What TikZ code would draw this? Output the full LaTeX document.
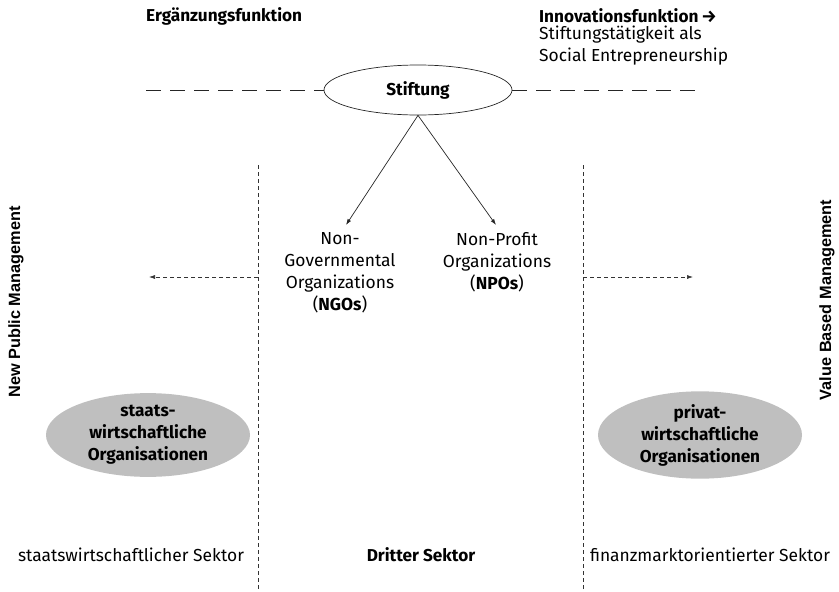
\documentclass[tikz,border=0pt]{standalone}
\usepackage{fontspec}
\setmainfont{Fira Sans}
\newfontfamily\sidefont{Liberation Sans}
\usetikzlibrary{arrows.meta,shapes.geometric}
\begin{document}
\begin{tikzpicture}[x=1pt,y=-1pt,
  txt/.style={font=\fontsize{17.4}{22}\selectfont, inner sep=0pt},
  bold/.style={txt, font=\fontsize{17.2}{22}\selectfont\bfseries},
  side/.style={inner sep=0pt, rotate=90, font=\sidefont\fontsize{16.3}{18}\selectfont\bfseries},
  divider/.style={draw=black!80, line width=0.6pt, dash pattern=on 4pt off 3pt},
  midline/.style={draw=black!85, line width=0.7pt, dash pattern=on 15pt off 9pt},
  sector/.style={ellipse, fill=black!25, minimum width=204pt, minimum height=82pt, inner sep=0pt,
                 align=center, font=\fontsize{17.2}{22}\selectfont\bfseries},
  tip/.style={-{Latex[length=6pt,width=4pt]}}
]
\useasboundingbox (0,0) rectangle (839,592);

% upper row: the two functions of the foundation
\node[bold, anchor=west] (erg) at (146,16) {Ergänzungsfunktion};
\node[bold, anchor=west] (inno) at (539,16) {Innovationsfunktion\,→};
\node[txt, anchor=north west, align=left] (social) at (539,26) {Stiftungstätigkeit als\\Social Entrepreneurship};

% the foundation on the dashed middle line
\node[ellipse, draw=black!85, line width=0.7pt, minimum width=188pt, minimum height=50pt,
      font=\fontsize{17.2}{22}\selectfont\bfseries] (stift) at (418,90) {Stiftung};
\coordinate (lineL) at (146,90);
\coordinate (lineR) at (695,90);
\draw[midline] (lineL) -- (stift.west);
\draw[midline] (stift.east) -- (lineR);

% third sector organisations
\node[txt, align=center, anchor=north] (ngo) at (340,232) {Non-\\Governmental\\Organizations\\(\textbf{NGOs})};
\node[txt, align=center, anchor=north] (npo) at (497,232) {Non-Profit\\Organizations\\(\textbf{NPOs})};
\draw[tip, draw=black!85, line width=0.7pt] (stift.south) -- (346,225);
\draw[tip, draw=black!85, line width=0.7pt] (stift.south) -- (496,225);

% sector boundaries
\coordinate (dLt) at (258,165);
\coordinate (dLb) at (258,592);
\coordinate (dRt) at (583,165);
\coordinate (dRb) at (583,592);
\draw[divider] (dLt) -- (dLb);
\draw[divider] (dRt) -- (dRb);

% management approaches
\coordinate (aL0) at (258,277);
\coordinate (aL1) at (149,277);
\coordinate (aR0) at (583,277);
\coordinate (aR1) at (693,277);
\draw[divider, tip] (aL0) -- (aL1);
\draw[divider, tip] (aR0) -- (aR1);
\node[side] (npm) at (16,302) {New Public Management};
\node[side] (vbm) at (827,300) {Value Based Management};

% state and private organisations
\node[sector] (staat) at (148,435) {staats-\\wirtschaftliche\\Organisationen};
\node[sector] (privat) at (700,435) {privat-\\wirtschaftliche\\Organisationen};

% sector names
\node[txt] (s1) at (131,555) {staatswirtschaftlicher Sektor};
\node[bold] (s2) at (421,555) {Dritter Sektor};
\node[txt] (s3) at (710,555) {finanzmarktorientierter Sektor};
\end{tikzpicture}
\end{document}
